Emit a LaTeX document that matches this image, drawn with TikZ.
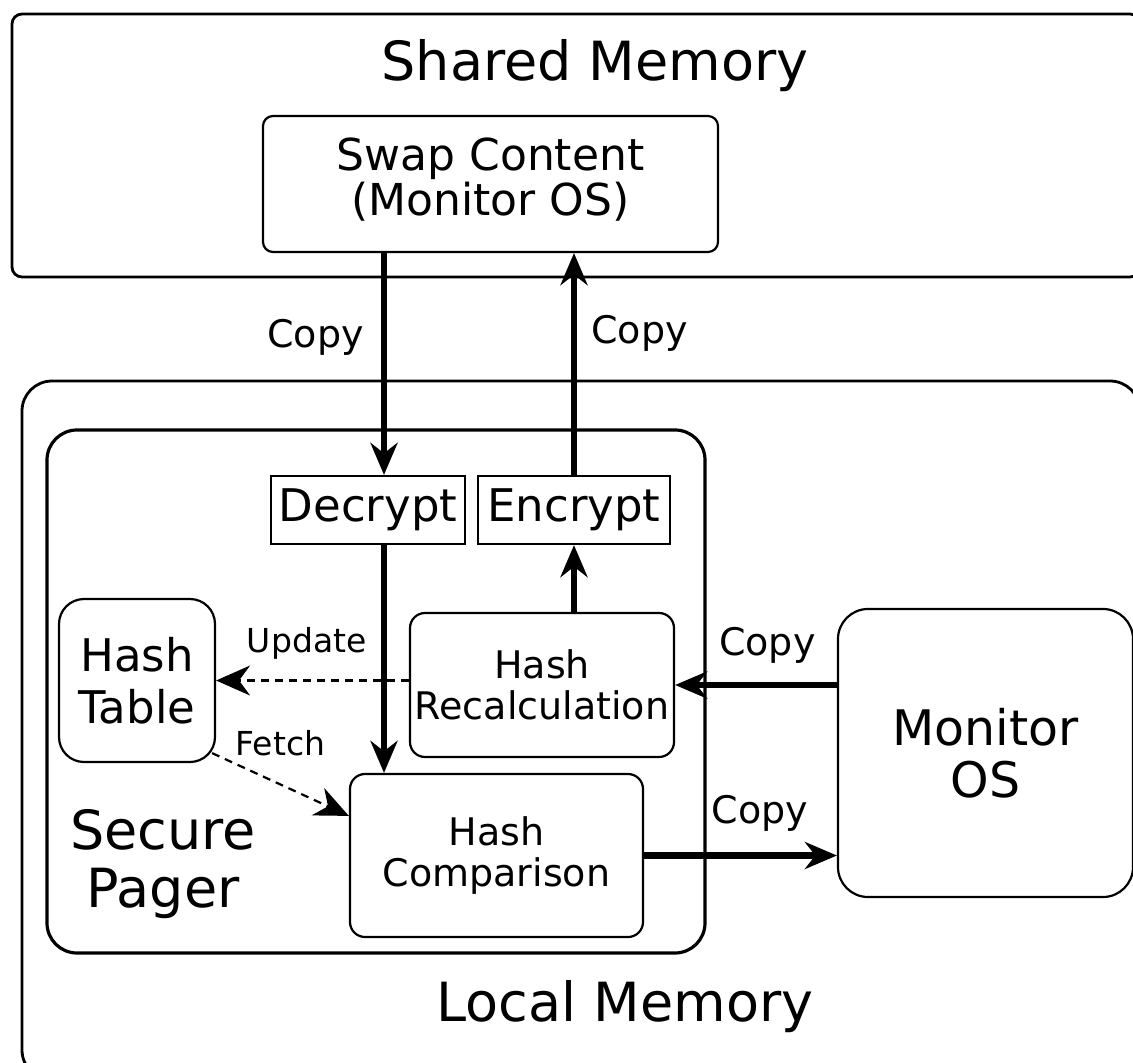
\documentclass[tikz,border=0pt]{standalone}
\usepackage{fontspec}
\setmainfont{DejaVu Sans}
\usetikzlibrary{arrows.meta}

\begin{document}
\begin{tikzpicture}[
    x=1pt, y=-1pt,
    >={Stealth[length=32pt, width=27pt]},
    container/.style={rectangle, draw, line width=2.8pt, rounded corners=#1, inner sep=0pt},
    container/.default=30pt,
    block/.style={rectangle, draw, line width=2.2pt, rounded corners=15pt, align=center, inner sep=0pt},
    crypt/.style={rectangle, draw, line width=2.2pt, inner sep=0pt, font=\fontsize{45}{52}\selectfont},
    title/.style={font=\fontsize{54}{58}\selectfont, align=center, inner sep=0pt},
    copyline/.style={->, line width=6.5pt},
    hashline/.style={-{Stealth[length=34pt, width=30pt]}, line width=2.2pt, dash pattern=on 8pt off 6pt},
    lbl/.style={font=\fontsize{38}{40}\selectfont, inner sep=0pt},
    smalllbl/.style={font=\fontsize{33}{35}\selectfont, inner sep=0pt}
]
\useasboundingbox (0,0) rectangle (1133,1063);

% memories
\node[container=10pt, minimum width=1128pt, minimum height=263pt] (shared) at (576,145.5) {};
\node[title] (sharedlbl) at (595,66) {Shared Memory};
\node[container, minimum width=1118pt, minimum height=699pt] (local) at (581,730.5) {};
\node[title] (locallbl) at (625,1007) {Local Memory};

% secure pager
\node[container, line width=3.2pt, minimum width=658pt, minimum height=523pt] (pager) at (376,691.5) {};
\node[title] (pagerlbl) at (163,864) {Secure\\Pager};

% blocks
\node[block, rounded corners=10pt, minimum width=455pt, minimum height=136pt, text depth=14pt, font=\fontsize{44}{45}\selectfont] (swap) at (490.5,184) {Swap Content\\(Monitor OS)};
\node[crypt, minimum width=194pt, minimum height=68pt] (decrypt) at (368,510) {Decrypt};
\node[crypt, minimum width=192pt, minimum height=68pt] (encrypt) at (574,510) {Encrypt};
\node[block, rounded corners=25pt, minimum width=156pt, minimum height=163pt, font=\fontsize{45}{52}\selectfont] (table) at (137,680.5) {Hash\\Table};
\node[block, minimum width=264pt, minimum height=144pt, font=\fontsize{38}{41}\selectfont] (recalc) at (542,685) {Hash\\Recalculation};
\node[block, minimum width=293pt, minimum height=163pt, font=\fontsize{38}{41}\selectfont] (compare) at (496.5,855.5) {Hash\\Comparison};
\node[block, rounded corners=30pt, minimum width=295pt, minimum height=288pt, font=\fontsize{49}{52}\selectfont] (monitor) at (985.5,753) {Monitor\\OS};

% copy paths
\coordinate (down) at ([xshift=16pt]decrypt.north);
\draw[copyline] (swap.south -| down) -- node[lbl, pos=0.38, left=17pt] {Copy} (down);
\draw[copyline] (encrypt.north) -- node[lbl, pos=0.64, right=14pt] {Copy} (swap.south -| encrypt.north);
\draw[copyline] ([xshift=16pt]decrypt.south) -- (compare.north -| down);
\draw[copyline] (recalc.north -| encrypt.south) -- (encrypt.south);
\draw[copyline] (monitor.west |- recalc.east) -- node[lbl, pos=0.43, above=18pt] {Copy} (recalc.east);
\draw[copyline] (compare.east) -- node[lbl, pos=0.6, above=21pt] {Copy} (compare.east -| monitor.west);

% hash table access
\draw[hashline] (recalc.west |- table.east) -- node[smalllbl, pos=0.53, above=20pt] {Update} (table.east);
\draw[hashline] ([xshift=-4pt, yshift=10pt]table.south east) -- node[smalllbl, pos=0.5, above=27pt] {Fetch} ([yshift=-43pt]compare.north west);

\end{tikzpicture}
\end{document}
